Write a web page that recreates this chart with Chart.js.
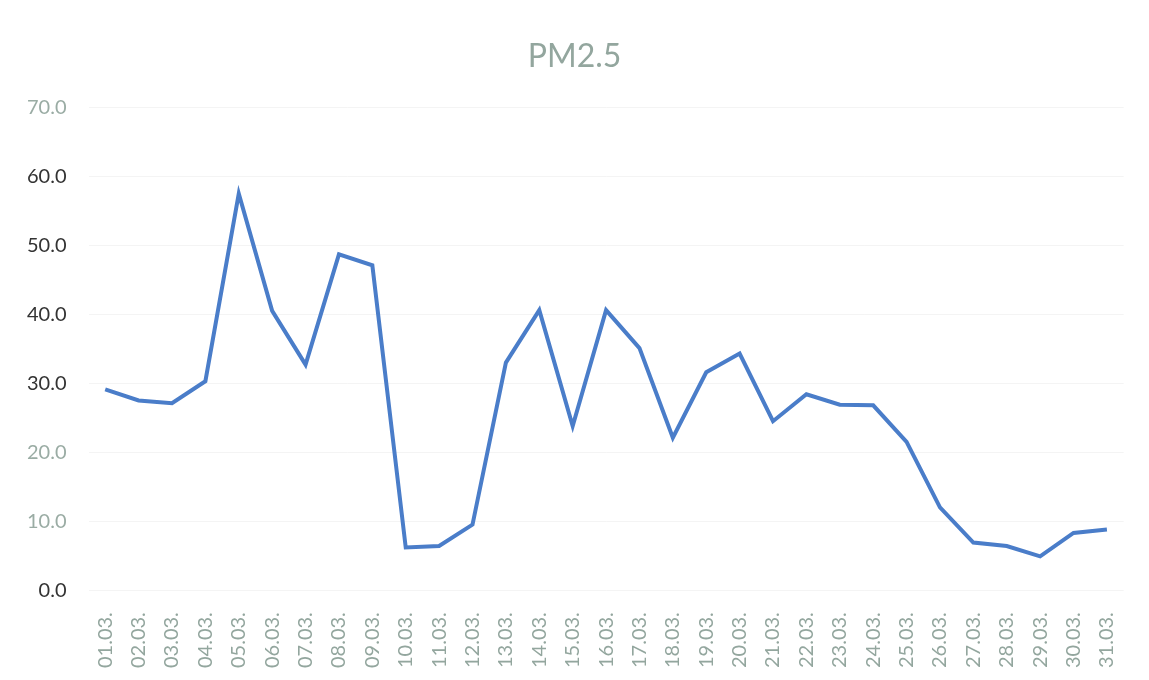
<!DOCTYPE html>
<html>
<head>
<meta charset="utf-8">
<script src="https://cdn.jsdelivr.net/npm/chart.js@4/dist/chart.umd.min.js"></script>
<style>
  html, body { margin: 0; padding: 0; background: #fff; }
  #wrap { width: 1149px; height: 680px; }
</style>
</head>
<body>
<div id="wrap"><canvas id="myChart" width="1149" height="680"></canvas></div>
<script>
const judul = 'PM2.5';
const tanggal = ['01.03.', '02.03.', '03.03.', '04.03.', '05.03.', '06.03.', '07.03.', '08.03.',
    '09.03.', '10.03.', '11.03.', '12.03.', '13.03.', '14.03.', '15.03.', '16.03.', '17.03.',
    '18.03.', '19.03.', '20.03.', '21.03.', '22.03.', '23.03.', '24.03.', '25.03.', '26.03.',
    '27.03.', '28.03.', '29.03.', '30.03.', '31.03.'];
const nilaiPM = [29.1, 27.5, 27.1, 30.3, 57.5, 40.5, 32.7, 48.7, 47.1, 6.2, 6.4, 9.5, 33.0,
    40.6, 23.8, 40.6, 35.1, 22.1, 31.6, 34.3, 24.5, 28.4, 26.9, 26.8, 21.5, 12.0, 6.9, 6.4,
    4.9, 8.3, 8.8];
const yMin = 0;
const yMax = 70;
const yStep = 10;
// label sumbu Y yang tampak abu-kehijauan di gambar asli
const tickPudar = [10, 20, 70];

const ctx = document.getElementById('myChart').getContext('2d');
new Chart(ctx, {
    type: 'line',
    data: {
        labels: tanggal,
        datasets: [{
            label: judul,
            data: nilaiPM,
            borderColor: '#4a7dc9',
            borderWidth: 4,
            pointRadius: 0,
            tension: 0,
            fill: false
        }]
    },
    options: {
        responsive: false,
        animation: false,
        layout: { padding: { left: 5, right: 5, top: 10, bottom: -10 } },
        plugins: {
            legend: { display: false },
            tooltip: { enabled: false },
            title: {
                display: true,
                text: judul,
                color: '#93a69e',
                font: { family: 'Lato', size: 32, weight: 'normal' },
                padding: { top: 27, bottom: 32 }
            }
        },
        scales: {
            x: {
                offset: true,
                grid: { display: false, drawTicks: false },
                border: { display: false },
                ticks: {
                    color: '#93a69e',
                    font: { family: 'Lato', size: 20, lineHeight: 1 },
                    minRotation: 90,
                    maxRotation: 90,
                    autoSkip: false,
                    padding: 22
                }
            },
            y: {
                min: yMin,
                max: yMax,
                grid: { color: '#f4f4f4', lineWidth: 1, drawTicks: false },
                border: { display: false },
                ticks: {
                    stepSize: yStep,
                    padding: 22,
                    font: { family: 'Lato', size: 20 },
                    color: (c) => tickPudar.includes(c.tick.value) ? '#9aaca4' : '#333333',
                    callback: (v) => Number(v).toFixed(1)
                }
            }
        }
    }
});
</script>
</body>
</html>
